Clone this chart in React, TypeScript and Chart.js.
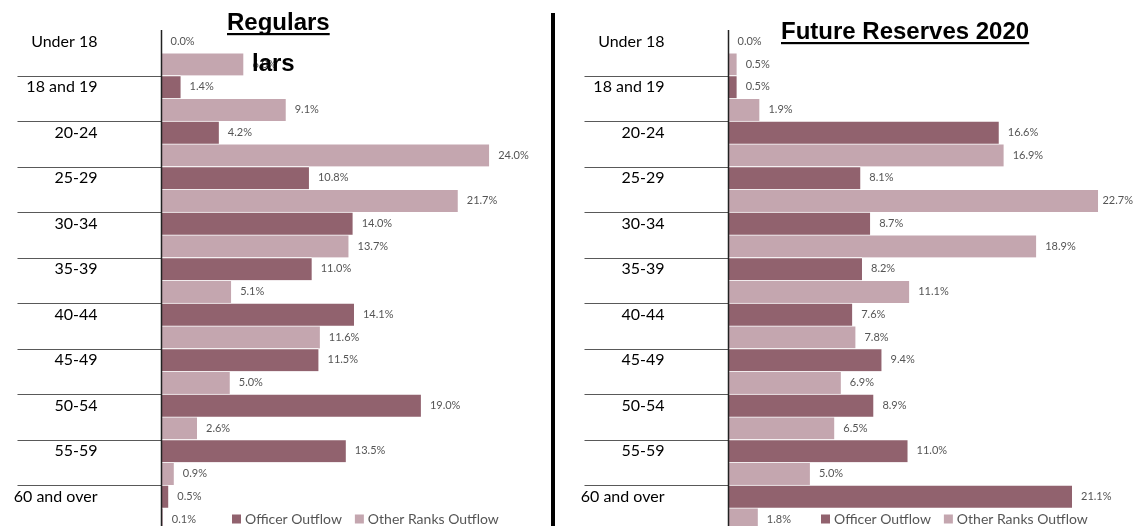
import React, { useEffect, useRef } from "react";
import { Chart, registerables } from "chart.js";

Chart.register(...registerables);

// ---------- data ----------
const categories = [
  "Under 18",
  "18 and 19",
  "20-24",
  "25-29",
  "30-34",
  "35-39",
  "40-44",
  "45-49",
  "50-54",
  "55-59",
  "60 and over",
];
const seriesNames = ["Officer Outflow", "Other Ranks Outflow"];

const regularsOfficer = [0.0, 1.4, 4.2, 10.8, 14.0, 11.0, 14.1, 11.5, 19.0, 13.5, 0.5];
const regularsOther = [6.0, 9.1, 24.0, 21.7, 13.7, 5.1, 11.6, 5.0, 2.6, 0.9, 0.1];

const reservesOfficer = [0.0, 0.5, 16.6, 8.1, 8.7, 8.2, 7.6, 9.4, 8.9, 11.0, 21.1];
const reservesOther = [0.5, 1.9, 16.9, 22.7, 18.9, 11.1, 7.8, 6.9, 6.5, 5.0, 1.8];

const titles = ["Regulars", "Future Reserves 2020"];
const axisMax = 25;

// ---------- styles ----------
const officerColor = "#91626E";
const otherColor = "#C4A6AF";
const CANVAS_H = 540;

type PanelCfg = {
  x: number;
  width: number;
  padLeft: number;
  padRight: number;
  title: string;
  titleX: number;
  titleBaseline: number;
  legendX: number;
  officer: number[];
  other: number[];
  overlay?: { text: string; x: number; baseline: number };
};

const panels: PanelCfg[] = [
  {
    x: 0,
    width: 552,
    padLeft: 161.5,
    padRight: 49.2,
    title: titles[0],
    titleX: 227,
    titleBaseline: 30,
    legendX: 232,
    officer: regularsOfficer,
    other: regularsOther,
    overlay: { text: "lars", x: 252, baseline: 71 },
  },
  {
    x: 556,
    width: 580,
    padLeft: 172.5,
    padRight: 0.5,
    title: titles[1],
    titleX: 225,
    titleBaseline: 39,
    legendX: 265,
    officer: reservesOfficer,
    other: reservesOther,
  },
];

function makeDecor(cfg: PanelCfg) {
  return {
    id: "panelDecor",
    afterDatasetsDraw(chart: any) {
      const ctx: CanvasRenderingContext2D = chart.ctx;
      const { left, top } = chart.chartArea;
      const yScale = chart.scales.y;
      ctx.save();

      // category separators in the label area
      ctx.strokeStyle = "#595959";
      ctx.lineWidth = 1.2;
      for (let i = 1; i < categories.length; i++) {
        const yy =
          Math.round((yScale.getPixelForValue(i - 1) + yScale.getPixelForValue(i)) / 2) + 0.5;
        ctx.beginPath();
        ctx.moveTo(left - 144, yy);
        ctx.lineTo(left, yy);
        ctx.stroke();
      }

      // category labels aligned to the officer bar
      const meta0 = chart.getDatasetMeta(0);
      ctx.font = '16px Lato, "Open Sans", sans-serif';
      ctx.fillStyle = "#000";
      ctx.textAlign = "right";
      ctx.textBaseline = "middle";
      categories.forEach((c, i) => {
        ctx.fillText(c, left - 64, meta0.data[i].y);
      });

      // vertical axis line
      ctx.strokeStyle = "#222";
      ctx.lineWidth = 1.5;
      ctx.beginPath();
      ctx.moveTo(left, top);
      ctx.lineTo(left, chart.height);
      ctx.stroke();

      // data labels
      ctx.font = '11px Lato, "Open Sans", sans-serif';
      ctx.fillStyle = "#555555";
      ctx.textAlign = "left";
      ctx.textBaseline = "middle";
      chart.data.datasets.forEach((ds: any, di: number) => {
        const meta = chart.getDatasetMeta(di);
        meta.data.forEach((el: any, i: number) => {
          const txt = Number(ds.data[i]).toFixed(1) + "%";
          const w = ctx.measureText(txt).width;
          let tx = el.x + 9;
          if (tx + w > chart.width - 3) tx = chart.width - 3 - w;
          ctx.fillText(txt, tx, el.y);
        });
      });

      // legend
      ctx.font = '14px Lato, "Open Sans", sans-serif';
      let lx = cfg.legendX;
      const ly = 519;
      chart.data.datasets.forEach((ds: any) => {
        ctx.fillStyle = ds.backgroundColor;
        ctx.fillRect(lx, ly - 4.5, 9, 9);
        lx += 13;
        ctx.fillStyle = "#555555";
        ctx.fillText(ds.label, lx, ly);
        lx += ctx.measureText(ds.label).width + 13;
      });
      ctx.restore();
    },
    afterDraw(chart: any) {
      const ctx: CanvasRenderingContext2D = chart.ctx;
      ctx.save();
      ctx.font = 'bold 24px "Liberation Sans", Arial, sans-serif';
      ctx.fillStyle = "#000";
      ctx.textAlign = "left";
      ctx.textBaseline = "alphabetic";
      ctx.fillText(cfg.title, cfg.titleX, cfg.titleBaseline);
      const tw = ctx.measureText(cfg.title).width;
      ctx.fillRect(cfg.titleX, cfg.titleBaseline + 3, tw, 2.2);
      if (cfg.overlay) {
        ctx.fillText(cfg.overlay.text, cfg.overlay.x, cfg.overlay.baseline);
      }
      ctx.restore();
    },
  };
}

function Panel({ cfg }: { cfg: PanelCfg }) {
  const ref = useRef<HTMLCanvasElement>(null);
  useEffect(() => {
    if (!ref.current) return;
    const chart = new Chart(ref.current, {
      type: "bar",
      data: {
        labels: categories,
        datasets: [
          {
            label: seriesNames[0],
            data: cfg.officer,
            backgroundColor: officerColor,
            borderColor: "#ffffff",
            borderWidth: { top: 1, right: 0, bottom: 0, left: 0 } as any,
            borderSkipped: false as any,
            barPercentage: 1,
            categoryPercentage: 1,
          },
          {
            label: seriesNames[1],
            data: cfg.other,
            backgroundColor: otherColor,
            borderColor: "#ffffff",
            borderWidth: { top: 1, right: 0, bottom: 0, left: 0 } as any,
            borderSkipped: false as any,
            barPercentage: 1,
            categoryPercentage: 1,
          },
        ],
      },
      options: {
        indexAxis: "y",
        responsive: false,
        animation: false,
        layout: {
          padding: {
            left: cfg.padLeft,
            right: cfg.padRight,
            top: 30,
            bottom: CANVAS_H - 530.5,
          },
        },
        scales: {
          x: { display: false, min: 0, max: axisMax },
          y: { display: false },
        },
        plugins: {
          legend: { display: false },
          tooltip: { enabled: false },
          title: { display: false },
        },
      },
      plugins: [makeDecor(cfg)],
    });
    return () => chart.destroy();
  }, [cfg]);
  return (
    <canvas
      ref={ref}
      width={cfg.width}
      height={CANVAS_H}
      style={{ position: "absolute", left: cfg.x, top: 0, width: cfg.width, height: CANVAS_H }}
    />
  );
}

export default function App() {
  return (
    <div
      style={{
        position: "fixed",
        left: 0,
        top: 0,
        width: 1136,
        height: 526,
        overflow: "hidden",
        background: "#fff",
      }}
    >
      {panels.map((p, i) => (
        <Panel key={i} cfg={p} />
      ))}
      <div
        style={{
          position: "absolute",
          left: 551,
          top: 13,
          width: 4,
          height: 520,
          background: "#000",
        }}
      />
    </div>
  );
}
